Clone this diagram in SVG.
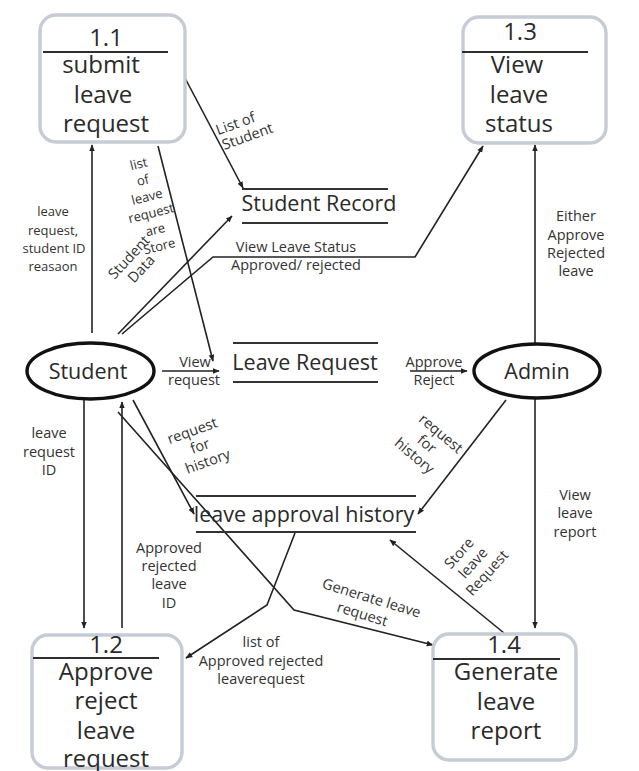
<svg xmlns="http://www.w3.org/2000/svg" width="639" height="771" viewBox="0 0 639 771">
<defs>
<style>
.bg{fill:#ffffff}
.box{fill:#ffffff;stroke:#c6ccd5;stroke-width:3.4}
.div{stroke:#2e2e2e;stroke-width:1.8;fill:none}
.store{stroke:#333333;stroke-width:1.8;fill:none}
.ent{fill:#ffffff;stroke:#111111;stroke-width:3.4}
.big{font-family:"Open Sans","Liberation Sans",sans-serif;font-size:24px;fill:#2a2a2a;text-anchor:middle}
.mid{font-family:"Open Sans","Liberation Sans",sans-serif;font-size:21.5px;fill:#2a2a2a;text-anchor:middle}
.lbl{font-family:"Open Sans","Liberation Sans",sans-serif;font-size:14.5px;fill:#333333;text-anchor:middle}
.sm{font-family:"Open Sans","Liberation Sans",sans-serif;font-size:13px;fill:#333333;text-anchor:middle}
.con{fill:none;stroke:#222222;stroke-width:1.6}
</style>
<marker id="ah" viewBox="0 0 10 10" refX="9" refY="5" markerWidth="7" markerHeight="7" markerUnits="userSpaceOnUse" orient="auto">
<path d="M0,1 L10,5 L0,9 z" fill="#222222"/>
</marker>
</defs>
<rect class="bg" x="0" y="0" width="639" height="771"/>

<g id="connectors">
<path class="con" d="M92,333 L92,145" marker-end="url(#ah)"/>
<path class="con" d="M185,78 L243,188" marker-end="url(#ah)"/>
<path class="con" d="M158,146 L213,361" marker-end="url(#ah)"/>
<path class="con" d="M118,334 L232,216" marker-end="url(#ah)"/>
<path class="con" d="M122,334 L213,257 L415,257 L483,146" marker-end="url(#ah)"/>
<path class="con" d="M162,371 L219,371" marker-end="url(#ah)"/>
<path class="con" d="M410,371 L467,371" marker-end="url(#ah)"/>
<path class="con" d="M535,345 L535,145" marker-end="url(#ah)"/>
<path class="con" d="M535,399 L535,628" marker-end="url(#ah)"/>
<path class="con" d="M506,400 L418,514" marker-end="url(#ah)"/>
<path class="con" d="M133,400 L194,514" marker-end="url(#ah)"/>
<path class="con" d="M118,412 L294,610 L433,645" marker-end="url(#ah)"/>
<path class="con" d="M504,633 L390,540" marker-end="url(#ah)"/>
<path class="con" d="M295,533 L267,605 L186,658" marker-end="url(#ah)"/>
<path class="con" d="M84,400 L84,628" marker-end="url(#ah)"/>
<path class="con" d="M122,628 L122,402" marker-end="url(#ah)"/>
</g>

<g id="connector-labels">
<g transform="translate(241,127) rotate(-20)">
<text class="lbl" x="-4" y="0">List of</text>
<text class="lbl" x="3" y="16">Student</text>
</g>
<g transform="translate(149,205) rotate(-14)">
<text class="sm" x="0" y="-38">list</text>
<text class="sm" x="0" y="-21">of</text>
<text class="sm" x="0" y="-4">leave</text>
<text class="sm" x="0" y="13">request</text>
<text class="sm" x="0" y="30">are</text>
<text class="sm" x="0" y="47">Store</text>
</g>
<text class="sm" x="53" y="216">leave</text>
<text class="sm" x="53" y="235">request,</text>
<text class="sm" x="54" y="253">student ID</text>
<text class="sm" x="53" y="271">reasaon</text>
<g transform="translate(134,262) rotate(-47)">
<text class="lbl" x="0" y="-2">Student</text>
<text class="lbl" x="0" y="15">Data</text>
</g>
<text class="lbl" x="296" y="252">View Leave Status</text>
<text class="lbl" x="296" y="270">Approved/ rejected</text>
<text class="lbl" x="195" y="367">View</text>
<text class="lbl" x="194" y="385">request</text>
<text class="lbl" x="434" y="367">Approve</text>
<text class="lbl" x="434" y="385">Reject</text>
<text class="lbl" x="576" y="221">Either</text>
<text class="lbl" x="576" y="240">Approve</text>
<text class="lbl" x="576" y="258">Rejected</text>
<text class="lbl" x="576" y="276">leave</text>
<text class="lbl" x="575" y="500">View</text>
<text class="lbl" x="575" y="518">leave</text>
<text class="lbl" x="575" y="537">report</text>
<text class="lbl" x="49" y="438">leave</text>
<text class="lbl" x="49" y="457">request</text>
<text class="lbl" x="49" y="475">ID</text>
<g transform="translate(200,446) rotate(-20)">
<text class="lbl" x="-2" y="-12">request</text>
<text class="lbl" x="0" y="5">for</text>
<text class="lbl" x="2" y="22">history</text>
</g>
<g transform="translate(427,444) rotate(40)">
<text class="lbl" x="4" y="-12">request</text>
<text class="lbl" x="0" y="5">for</text>
<text class="lbl" x="-2" y="22">history</text>
</g>
<text class="lbl" x="169" y="553">Approved</text>
<text class="lbl" x="169" y="571">rejected</text>
<text class="lbl" x="169" y="589">leave</text>
<text class="lbl" x="169" y="608">ID</text>
<g transform="translate(367,606) rotate(17)">
<text class="lbl" x="2" y="-4">Generate leave</text>
<text class="lbl" x="-2" y="14">request</text>
</g>
<g transform="translate(473,563) rotate(-48)">
<text class="lbl" x="-2" y="-12">Store</text>
<text class="lbl" x="0" y="5">leave</text>
<text class="lbl" x="2" y="22">Request</text>
</g>
<text class="lbl" x="261" y="647">list of</text>
<text class="lbl" x="261" y="666">Approved rejected</text>
<text class="lbl" x="261" y="684">leaverequest</text>
</g>

<g id="p1-1">
<rect class="box" x="40" y="15" width="145" height="127" rx="16"/>
<line class="div" x1="43" y1="52" x2="168" y2="52"/>
<text class="big" x="106" y="46">1.1</text>
<text class="big" x="101" y="73">submit</text>
<text class="big" x="103" y="103">leave</text>
<text class="big" x="106" y="132">request</text>
</g>

<g id="p1-3">
<rect class="box" x="463" y="17" width="143" height="126" rx="16"/>
<line class="div" x1="462" y1="52" x2="588" y2="52"/>
<text class="big" x="520" y="40">1.3</text>
<text class="big" x="517" y="73">View</text>
<text class="big" x="519" y="103">leave</text>
<text class="big" x="519" y="132">status</text>
</g>

<g id="ds-student-record">
<line class="store" x1="242" y1="189" x2="388" y2="189"/>
<line class="store" x1="242" y1="223" x2="388" y2="223"/>
<text class="mid" x="319" y="211">Student Record</text>
</g>

<g id="ds-leave-request">
<line class="store" x1="233" y1="343" x2="378" y2="343"/>
<line class="store" x1="233" y1="382" x2="378" y2="382"/>
<text class="mid" x="305" y="370">Leave Request</text>
</g>

<g id="ds-leave-approval-history">
<line class="store" x1="196" y1="496" x2="416" y2="496"/>
<line class="store" x1="196" y1="532" x2="416" y2="532"/>
<text class="mid" x="304" y="522">leave approval history</text>
</g>

<g id="e-student">
<ellipse class="ent" cx="90.5" cy="371" rx="63.5" ry="28"/>
<text class="mid" x="88" y="379">Student</text>
</g>

<g id="e-admin">
<ellipse class="ent" cx="537" cy="371" rx="63" ry="27"/>
<text class="mid" x="537" y="379">Admin</text>
</g>

<g id="p1-2">
<rect class="box" x="32" y="635" width="150" height="133" rx="16"/>
<line class="div" x1="33" y1="658" x2="159" y2="658"/>
<text class="big" x="106" y="653">1.2</text>
<text class="big" x="106" y="680">Approve</text>
<text class="big" x="106" y="709">reject</text>
<text class="big" x="106" y="739">leave</text>
<text class="big" x="106" y="767">request</text>
</g>

<g id="p1-4">
<rect class="box" x="433" y="634" width="143" height="126" rx="16"/>
<line class="div" x1="433" y1="659" x2="560" y2="659"/>
<text class="big" x="504" y="653">1.4</text>
<text class="big" x="506" y="680">Generate</text>
<text class="big" x="506" y="710">leave</text>
<text class="big" x="506" y="739">report</text>
</g>
</svg>
